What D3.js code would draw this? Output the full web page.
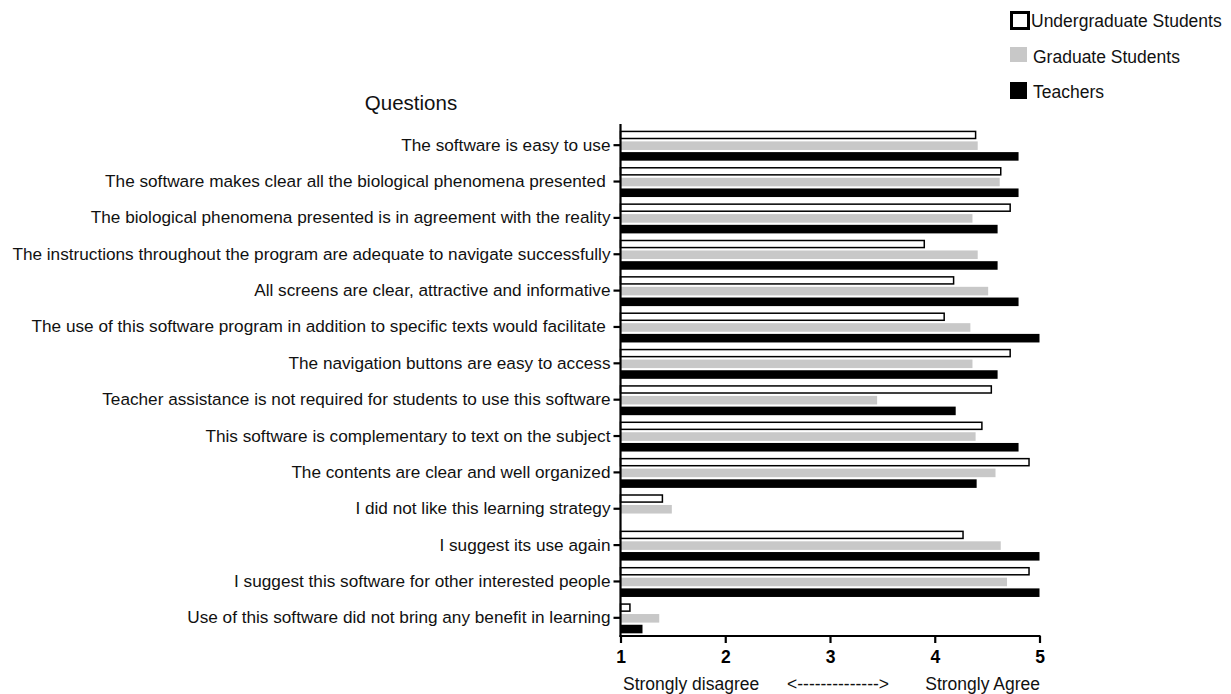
<!DOCTYPE html>
<html><head><meta charset="utf-8">
<script src="https://cdn.jsdelivr.net/npm/d3@7"></script>
<style>body{margin:0;background:#fff;}svg{display:block;font-family:"Liberation Sans",Arial,sans-serif;}</style>
</head><body>
<svg id="chart" width="1231" height="694"></svg>
<script>
const questions = [
  "The software is easy to use",
  "The software makes clear all the biological phenomena presented\u00a0",
  "The biological phenomena presented is in agreement with the reality",
  "The instructions throughout the program are adequate to navigate successfully",
  "All screens are clear, attractive and informative",
  "The use of this software program in addition to specific texts would facilitate\u00a0",
  "The navigation buttons are easy to access",
  "Teacher assistance is not required for students to use this software",
  "This software is complementary to text on the subject",
  "The contents are clear and well organized",
  "I did not like this learning strategy",
  "I suggest its use again",
  "I suggest this software for other interested people",
  "Use of this software did not bring any benefit in learning"
];
const seriesNames = ["Undergraduate Students", "Graduate Students", "Teachers"];
const undergrad = [4.39, 4.63, 4.72, 3.90, 4.18, 4.09, 4.72, 4.54, 4.45, 4.90, 1.40, 4.27, 4.90, 1.09];
const graduate  = [4.41, 4.62, 4.36, 4.41, 4.51, 4.34, 4.36, 3.45, 4.39, 4.58, 1.49, 4.63, 4.69, 1.37];
const teachers  = [4.80, 4.80, 4.60, 4.60, 4.80, 5.00, 4.60, 4.20, 4.80, 4.40, 1.00, 5.00, 5.00, 1.21];
const xTicks = [1, 2, 3, 4, 5];

const series = [undergrad, graduate, teachers];
const fills = ["#ffffff", "#c8c8c8", "#000000"];

const svg = d3.select("#chart");
const x = d3.scaleLinear().domain([1, 5]).range([620.5, 1039.5]);
const y = d3.scaleBand().domain(questions).range([127, 636]).paddingInner(0).paddingOuter(0);
const sub = d3.scaleBand().domain([0, 1, 2]).range([y.bandwidth()/2 - 14.5, y.bandwidth()/2 + 15.5]).paddingInner(0.2);

// bars
series.forEach((vals, si) => {
  svg.append("g").selectAll("rect").data(vals).join("rect")
    .attr("x", x(1))
    .attr("y", (d, i) => y(questions[i]) + sub(si) + (si === 0 ? 0.75 : 0))
    .attr("width", d => Math.max(0, x(d) - x(1)))
    .attr("height", si === 0 ? sub.bandwidth() - 1.5 : sub.bandwidth())
    .attr("fill", fills[si])
    .attr("stroke", si === 0 ? "#000" : "none")
    .attr("stroke-width", 1.5)
    .attr("display", d => d <= 1 ? "none" : null);
});

// y axis
const yAxis = svg.append("g").attr("transform", `translate(${x(1)},0)`)
  .call(d3.axisLeft(y).tickSize(7).tickPadding(3).tickSizeOuter(0));
yAxis.select(".domain").attr("stroke", "#000").attr("stroke-width", 2.2)
  .attr("d", `M0,124V637`);
yAxis.selectAll(".tick line").attr("stroke", "#000").attr("stroke-width", 2.2);
yAxis.selectAll(".tick text").attr("font-size", 17.2).attr("fill", "#111")
  .attr("font-family", "'Liberation Sans', Arial, sans-serif");

// x axis
const xAxis = svg.append("g").attr("transform", `translate(0,636)`)
  .call(d3.axisBottom(x).tickValues(xTicks).tickFormat(d3.format("d")).tickSize(7).tickPadding(7.5).tickSizeOuter(0));
xAxis.select(".domain").attr("stroke", "#000").attr("stroke-width", 2.2)
  .attr("d", `M${x(1)-1},0H${x(5)+1}`);
xAxis.selectAll(".tick line").attr("stroke", "#000").attr("stroke-width", 2.2);
xAxis.selectAll(".tick text").attr("font-size", 17.5).attr("font-weight", "bold").attr("fill", "#000")
  .attr("font-family", "'Liberation Sans', Arial, sans-serif");

// x axis captions
svg.append("text").attr("x", 623).attr("y", 690).attr("font-size", 17.5).attr("fill", "#111").text("Strongly disagree");
svg.append("text").attr("x", 787).attr("y", 690).attr("font-size", 17.5).attr("fill", "#111").text("<-------------->");
svg.append("text").attr("x", 1040).attr("y", 690).attr("text-anchor", "end").attr("font-size", 17.5).attr("fill", "#111").text("Strongly Agree");

// title
svg.append("text").attr("x", 411).attr("y", 110).attr("text-anchor", "middle").attr("font-size", 20.5).attr("fill", "#111").text("Questions");

// legend
const legY = [11, 47, 82];
const legG = svg.append("g");
seriesNames.forEach((name, i) => {
  if (i === 0) {
    legG.append("rect").attr("x", 1011.5).attr("y", legY[i] + 1.5).attr("width", 17).attr("height", 16)
      .attr("fill", "#fff").attr("stroke", "#000").attr("stroke-width", 3);
  } else {
    legG.append("rect").attr("x", 1010).attr("y", legY[i]).attr("width", 17).attr("height", i === 1 ? 15 : 17)
      .attr("fill", fills[i]);
  }
  legG.append("text").attr("x", i === 0 ? 1031 : 1033).attr("y", legY[i] + 16).attr("font-size", 17.5).attr("fill", "#111").text(name);
});
</script>
</body></html>
